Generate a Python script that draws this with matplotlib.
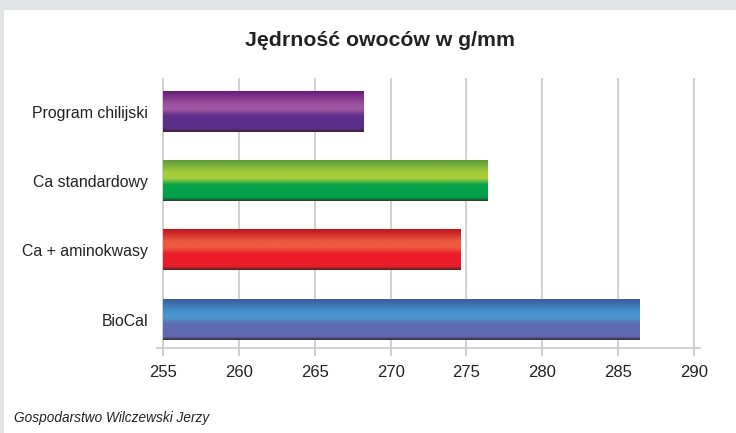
import numpy as np
import matplotlib
matplotlib.use("Agg")
from matplotlib import pyplot as plt
from matplotlib import rcParams
from matplotlib.colors import LinearSegmentedColormap
from matplotlib.patches import Rectangle

rcParams['font.family'] = ['Liberation Sans', 'DejaVu Sans']

categories = ['BioCal', 'Ca + aminokwasy', 'Ca standardowy', 'Program chilijski']
values = [286.4, 274.6, 276.4, 268.2]
ticks = [255, 260, 265, 270, 275, 280, 285, 290]

# gradient stops, top of bar -> bottom of bar
gradients = [
    ['#3a5c9c', '#4390cc', '#4a96d0', '#5e6cb4', '#6068b0', '#3a2a30'],
    ['#c0141c', '#ec5a40', '#f05a40', '#ee1c2a', '#e81e2a', '#4a2020'],
    ['#5c9a3a', '#a4cc3c', '#a8cc3a', '#08a44a', '#00a04a', '#2a3a20'],
    ['#6a1a78', '#9a4e9e', '#a357a3', '#5e2e8c', '#5a2e8a', '#3e2030'],
]
stops = [0.0, 0.3, 0.45, 0.6, 0.92, 1.0]

fig = plt.figure(figsize=(7.36, 4.33), dpi=100)

# frame: grey strip on top and left
fig.patches.append(Rectangle((0, 0), 1, 1, transform=fig.transFigure,
                             facecolor='#e2e3e5', edgecolor='none', zorder=-10))
fig.patches.append(Rectangle((4 / 736, 0), 1, 1 - 10 / 433, transform=fig.transFigure,
                             facecolor='white', edgecolor='none', zorder=-9))

ax = fig.add_axes([157 / 736, 85 / 433, 543 / 736, 270 / 433])
ax.patch.set_alpha(0)

h = 0.58
for i, (v, cols) in enumerate(zip(values, gradients)):
    cmap = LinearSegmentedColormap.from_list('g%d' % i, list(zip(stops, cols)))
    grad = np.linspace(0, 1, 200).reshape(-1, 1)
    ax.imshow(grad, cmap=cmap, aspect='auto', interpolation='bilinear',
              extent=(255, v, i - h / 2, i + h / 2), origin='upper', zorder=3)

ax.set_xlim(254.6, 290.4)
ax.set_ylim(-0.41, 3.49)

for t in ticks:
    ax.axvline(t, color='#c4c4c6', lw=1.1, zorder=1)

for s in ['top', 'right', 'left']:
    ax.spines[s].set_visible(False)
ax.spines['bottom'].set_color('#c8c8c8')
ax.spines['bottom'].set_linewidth(1.2)

ax.set_xticks(ticks)
ax.set_xticklabels([str(t) for t in ticks], fontsize=12, color='#222222')
ax.tick_params(axis='x', length=6, width=1.1, color='#c4c4c6', pad=6)
ax.set_yticks(range(len(categories)))
ax.set_yticklabels(categories, fontsize=11.4, color='#222222')
ax.tick_params(axis='y', length=0, pad=6.5)

fig.text(380 / 736, 1 - 40 / 433, 'Jędrność owoców w g/mm', ha='center', va='center',
         fontsize=15.3, fontweight='bold', color='#222222')
fig.text(14 / 736, 1 - 418 / 433, 'Gospodarstwo Wilczewski Jerzy', ha='left', va='center',
         fontsize=9.8, style='italic', color='#222222')

fig.savefig('out.png', dpi=100)
